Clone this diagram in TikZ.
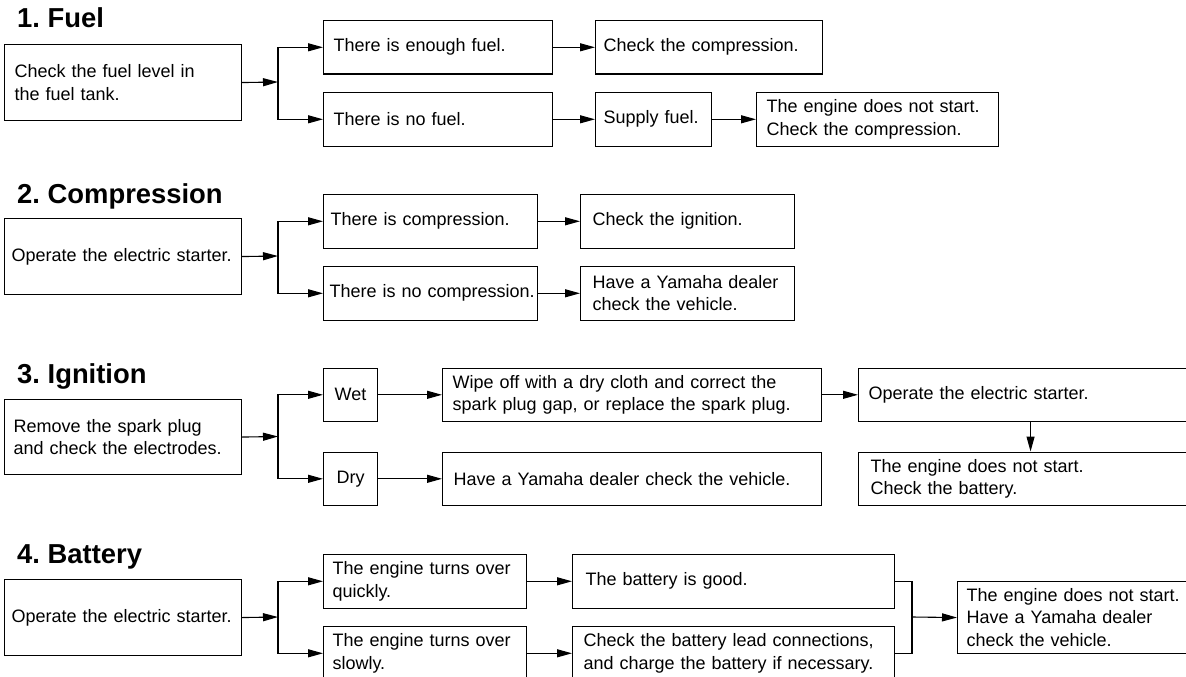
\documentclass[tikz,border=0pt]{standalone}
\usepackage{fontspec}
\setmainfont{Liberation Sans}
\usetikzlibrary{arrows.meta}
\frenchspacing

\begin{document}
\begin{tikzpicture}[
    x=1pt, y=-1pt,
    every node/.style={font=\fontsize{18}{22.4}\selectfont},
    box/.style={draw, line width=1.1pt, anchor=north west, align=left,
        inner xsep=10pt, inner ysep=0pt, minimum height=53.5pt},
    title/.style={anchor=base west, inner sep=0pt,
        font=\fontsize{27.4}{31}\selectfont\bfseries},
    arr/.style={line width=1.1pt, -{Triangle[length=15pt,width=8pt]}},
    line/.style={line width=1.1pt}
]
\useasboundingbox (0,0) rectangle (1186,677);
\clip (0,0) rectangle (1186,677);

% 1. Fuel
\node[title] (t1) at (17,28) {1. Fuel};
\node[box, text width=217pt, minimum height=76pt] (a1) at (4,44) {Check the fuel level in\\the fuel tank.};
\node[box, text width=209pt] (b1) at (323,20) {There is enough fuel.};
\node[box, text width=209pt] (b2) at (323,92) {There is no fuel.};
\node[box, inner xsep=8pt, text width=211pt] (c1) at (595,20) {Check the compression.};
\node[box, inner xsep=8pt, text width=100pt] (c2) at (595,92) {Supply fuel.};
\node[box, text width=222pt] (d2) at (756,92) {The engine does not start.\\Check the compression.};
\coordinate (j1) at (278,82);
\draw[arr] (a1.east) -- (j1);
\draw[arr] (j1) |- (b1.west);
\draw[arr] (j1) |- (b2.west);
\draw[arr] (b1) -- (c1);
\draw[arr] (b2) -- (c2);
\draw[arr] (c2) -- (d2);

% 2. Compression
\node[title] (t2) at (17,203) {2. Compression};
\node[box, inner xsep=7pt, text width=223pt, minimum height=76pt] (a2) at (4,218) {\mbox{Operate the electric starter.}};
\node[box, inner xsep=7pt, text width=200pt] (b3) at (323,194) {\mbox{There is compression.}};
\node[box, inner xsep=6pt, text width=202pt] (b4) at (323,266) {\mbox{There is no compression.}};
\node[box, inner xsep=12pt, text width=190pt] (c3) at (580,194) {Check the ignition.};
\node[box, inner xsep=12pt, text width=190pt] (c4) at (580,266) {Have a Yamaha dealer\\check the vehicle.};
\coordinate (j2) at (278,256);
\draw[arr] (a2.east) -- (j2);
\draw[arr] (j2) |- (b3.west);
\draw[arr] (j2) |- (b4.west);
\draw[arr] (b3) -- (c3);
\draw[arr] (b4) -- (c4);

% 3. Ignition
\node[title] (t3) at (17,383) {3. Ignition};
\node[box, inner xsep=9pt, text width=219pt, minimum height=75pt] (a3) at (4,399) {Remove the spark plug\\and check the electrodes.};
\node[box, align=center, inner xsep=0pt, text width=54pt] (w1) at (323,367.5) {Wet};
\node[box, align=center, inner xsep=0pt, text width=54pt] (w2) at (323,451.5) {Dry};
\node[box, text width=359pt] (e1) at (442,367.5) {Wipe off with a dry cloth and correct the\\spark plug gap, or replace the spark plug.};
\node[box, inner xsep=11pt, text width=357pt] (e2) at (442,451.5) {Have a Yamaha dealer check the vehicle.};
\node[box, text width=324pt] (f1) at (858,367.5) {Operate the electric starter.};
\node[box, inner xsep=12pt, text width=320pt] (f2) at (858,451.5) {The engine does not start.\\Check the battery.};
\coordinate (j3) at (278,436.5);
\draw[arr] (a3.east) -- (j3);
\draw[arr] (j3) |- (w1.west);
\draw[arr] (j3) |- (w2.west);
\draw[arr] (w1) -- (e1);
\draw[arr] (w2) -- (e2);
\draw[arr] (e1) -- (f1);
\draw[arr] (f1) -- (f2);

% 4. Battery
\node[title] (t4) at (17,563) {4. Battery};
\node[box, inner xsep=7pt, text width=223pt, minimum height=76pt] (a4) at (4,579) {\mbox{Operate the electric starter.}};
\node[box, inner xsep=9pt, text width=185pt] (g1) at (323,554) {The engine turns over\\quickly.};
\node[box, inner xsep=9pt, text width=185pt] (g2) at (323,626) {The engine turns over\\slowly.};
\node[box, inner xsep=13pt, text width=296pt] (h1) at (572,554) {The battery is good.};
\node[box, inner xsep=11pt, text width=300pt] (h2) at (572,626) {Check the battery lead connections,\\and charge the battery if necessary.};
\node[box, inner xsep=9pt, text width=222pt, minimum height=72pt] (k1) at (957,581) {The engine does not start.\\Have a Yamaha dealer\\check the vehicle.};
\coordinate (j4) at (278,617);
\coordinate (m4) at (912,617);
\draw[arr] (a4.east) -- (j4);
\draw[arr] (j4) |- (g1.west);
\draw[arr] (j4) |- (g2.west);
\draw[arr] (g1) -- (h1);
\draw[arr] (g2) -- (h2);
\draw[line] (h1.east) -| (m4) |- (h2.east);
\draw[arr] (m4) -- (k1.west);
\end{tikzpicture}
\end{document}
